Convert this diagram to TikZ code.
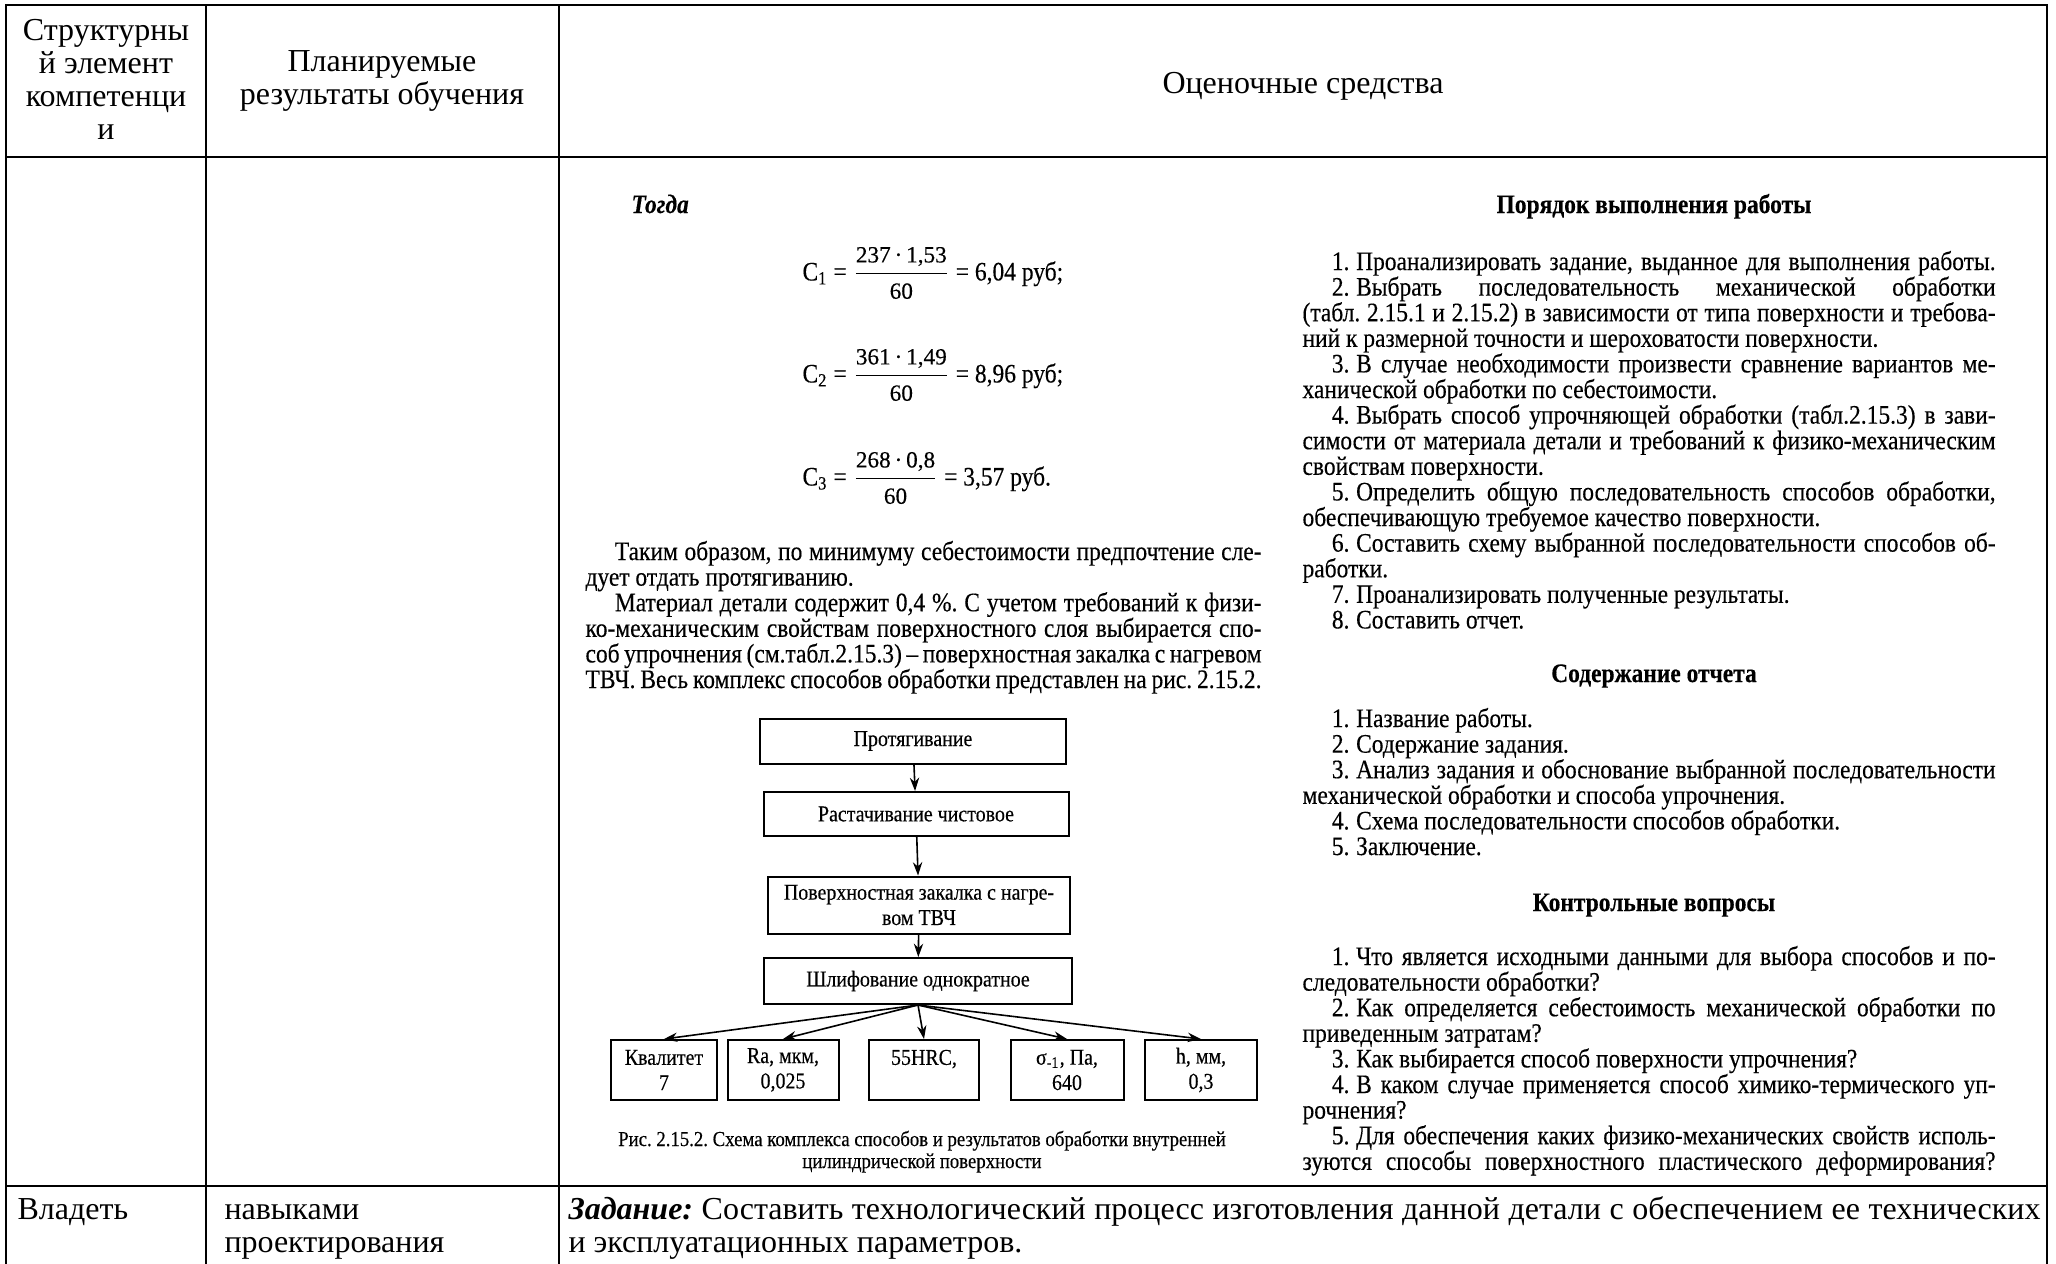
\documentclass[tikz,border=0pt]{standalone}
\usepackage{amsmath}
\usepackage{fontspec}
\setmainfont{Liberation Serif}
\newfontfamily\scanfont[FakeStretch=0.88,FakeBold=0.3]{Liberation Serif}
\newfontfamily\fracfont[FakeBold=0.3]{Liberation Serif}
\usetikzlibrary{arrows.meta}
\frenchspacing
\newcommand\JL[1]{\makebox[\linewidth][s]{#1}\\}
\newcommand\JE[1]{\makebox[\linewidth][s]{#1}}
\newcommand\NL[1]{#1\\}
\newcommand\PI{\hspace*{1.1em}}
\newcommand\It[1]{\hspace*{1.1em}#1.\hspace*{0.25em}}
\newcommand\FR[2]{$\dfrac{\text{\fracfont\fontsize{8.7}{8.7}\selectfont #1}}{\text{\fracfont\fontsize{8.7}{8.7}\selectfont #2}}$}
\tikzset{
  tab/.style={line width=1pt, line cap=rect},
  hdr/.style={font=\fontsize{12}{12.4}\selectfont, align=center, inner sep=0},
  body/.style={font=\fontsize{12}{12.4}\selectfont, anchor=base west, inner sep=0},
  scan/.style={anchor=base west, inner sep=0, font=\scanfont\fontsize{10}{9.6}\selectfont},
  scanhead/.style={anchor=base, inner sep=0, font=\scanfont\bfseries\fontsize{10}{9.6}\selectfont},
  form/.style={anchor=west, inner sep=0, font=\scanfont\fontsize{10}{10}\selectfont},
  capt/.style={anchor=base, inner sep=0, font=\scanfont\fontsize{8}{8}\selectfont},
  flow/.style={draw, line width=0.75pt, inner sep=1pt, align=center, font=\scanfont\fontsize{8.5}{9.5}\selectfont},
  res/.style={draw, line width=0.75pt, inner sep=1pt, align=center, minimum height=60*0.375pt, font=\scanfont\fontsize{8.5}{9.5}\selectfont},
  farr/.style={-{Stealth[length=5pt,width=3.5pt]}, line width=0.6pt},
}
\begin{document}
\begin{tikzpicture}[x=0.375pt,y=-0.375pt]
\useasboundingbox (0,0) rectangle (2056,1263);
\fill[white] (0,0) rectangle (2056,1263);
% table grid
\draw[tab] (6,1263) -- (6,5) -- (2047,5) -- (2047,1263);
\draw[tab] (206,5) -- (206,1263);
\draw[tab] (559,5) -- (559,1263);
\draw[tab] (6,157) -- (2047,157);
\draw[tab] (6,1186) -- (2047,1186);
% header
\node[hdr] (h-a) at (106,79) {Структурны\\й элемент\\компетенци\\и};
\node[hdr] (h-b) at (382,81) {Планируемые\\результаты обучения};
\node[hdr] (h-c) at (1303,86) {Оценочные средства};
% bottom row
\node[body] (v1) at (17,1219) {Владеть};
\node[body] (v2) at (224,1219) {навыками};
\node[body] (v3) at (224,1252) {проектирования};
\node[body] (v4) at (568,1219) {\makebox[552pt][s]{\textbf{\textit{Задание:}} Составить технологический процесс изготовления данной детали с обеспечением ее технических}};
\node[body] (v5) at (568,1252) {и эксплуатационных параметров.};
% scanned page: left part
\node[anchor=base west, inner sep=0, font=\scanfont\bfseries\itshape\fontsize{10}{10}\selectfont] (togda) at (631,213) {Тогда};
\node[form] (c1) at (802,273) {C\textsubscript{1} = \FR{237\,·\,1,53}{60} = 6,04 руб;};
\node[form] (c2) at (802,375) {C\textsubscript{2} = \FR{361\,·\,1,49}{60} = 8,96 руб;};
\node[form] (c3) at (802,478) {C\textsubscript{3} = \FR{268\,·\,0,8}{60} = 3,57 руб.};
\node[scan] (par1) at (585,560) {\begin{minipage}[t]{253.5pt}
\JL{\PI Таким образом, по минимуму себестоимости предпочтение сле-}
\NL{дует отдать протягиванию.}
\JL{\PI Материал детали содержит 0,4 \%. С учетом требований к физи-}
\JL{ко-механическим свойствам поверхностного слоя выбирается спо-}
\JL{соб упрочнения (см.табл.2.15.3) – поверхностная закалка с нагревом}
\JE{ТВЧ. Весь комплекс способов обработки представлен на рис. 2.15.2.}
\end{minipage}};
% flowchart
\node[flow, minimum width=306*0.375pt, minimum height=45*0.375pt] (p1) at (913,741) {Протягивание};
\node[flow, minimum width=305*0.375pt, minimum height=44*0.375pt] (p2) at (916,814) {Растачивание чистовое};
\node[flow, minimum width=302*0.375pt, minimum height=57*0.375pt] (p3) at (919,905) {Поверхностная закалка с нагре-\\вом ТВЧ};
\node[flow, minimum width=308*0.375pt, minimum height=46*0.375pt] (p4) at (918,981) {Шлифование однократное};
\node[res, minimum width=106*0.375pt] (r1) at (664,1070) {Квалитет\\7};
\node[res, minimum width=111*0.375pt] (r2) at (783,1070) {Ra, мкм,\\0,025};
\node[res, minimum width=110*0.375pt] (r3) at (924,1070) {55HRC,\\\mbox{}};
\node[res, minimum width=113*0.375pt] (r4) at (1067,1070) {σ\textsubscript{-1}, Па,\\640};
\node[res, minimum width=112*0.375pt] (r5) at (1201,1070) {h, мм,\\0,3};
\draw[farr] (p1) -- (p2);
\draw[farr] (p2) -- (p3);
\draw[farr] (p3) -- (p4);
\draw[farr] (p4.south) -- (r1.north);
\draw[farr] (p4.south) -- (r2.north);
\draw[farr] (p4.south) -- (r3.north);
\draw[farr] (p4.south) -- (r4.north);
\draw[farr] (p4.south) -- (r5.north);
\node[capt] (cap1) at (922,1146) {Рис. 2.15.2. Схема комплекса способов и результатов обработки внутренней};
\node[capt] (cap2) at (922,1168) {цилиндрической поверхности};
% scanned page: right part
\node[scanhead] (s1) at (1654,213) {Порядок выполнения работы};
\node[scan] (blk1) at (1302,270) {\begin{minipage}[t]{259.9pt}
\JL{\It{1}Проанализировать задание, выданное для выполнения работы.}
\JL{\It{2}Выбрать последовательность механической обработки}
\JL{(табл. 2.15.1 и 2.15.2) в зависимости от типа поверхности и требова-}
\NL{ний к размерной точности и шероховатости поверхности.}
\JL{\It{3}В случае необходимости произвести сравнение вариантов ме-}
\NL{ханической обработки по себестоимости.}
\JL{\It{4}Выбрать способ упрочняющей обработки (табл.2.15.3) в зави-}
\JL{симости от материала детали и требований к физико-механическим}
\NL{свойствам поверхности.}
\JL{\It{5}Определить общую последовательность способов обработки,}
\NL{обеспечивающую требуемое качество поверхности.}
\JL{\It{6}Составить схему выбранной последовательности способов об-}
\NL{работки.}
\NL{\It{7}Проанализировать полученные результаты.}
\It{8}Составить отчет.
\end{minipage}};
\node[scanhead] (s2) at (1654,682) {Содержание отчета};
\node[scan] (blk2) at (1302,727) {\begin{minipage}[t]{259.9pt}
\NL{\It{1}Название работы.}
\NL{\It{2}Содержание задания.}
\JL{\It{3}Анализ задания и обоснование выбранной последовательности}
\NL{механической обработки и способа упрочнения.}
\NL{\It{4}Схема последовательности способов обработки.}
\It{5}Заключение.
\end{minipage}};
\node[scanhead] (s3) at (1654,911) {Контрольные вопросы};
\node[scan] (blk3) at (1302,965) {\begin{minipage}[t]{259.9pt}
\JL{\It{1}Что является исходными данными для выбора способов и по-}
\NL{следовательности обработки?}
\JL{\It{2}Как определяется себестоимость механической обработки по}
\NL{приведенным затратам?}
\NL{\It{3}Как выбирается способ поверхности упрочнения?}
\JL{\It{4}В каком случае применяется способ химико-термического уп-}
\NL{рочнения?}
\JL{\It{5}Для обеспечения каких физико-механических свойств исполь-}
\JE{зуются способы поверхностного пластического деформирования?}
\end{minipage}};
\end{tikzpicture}
\end{document}
